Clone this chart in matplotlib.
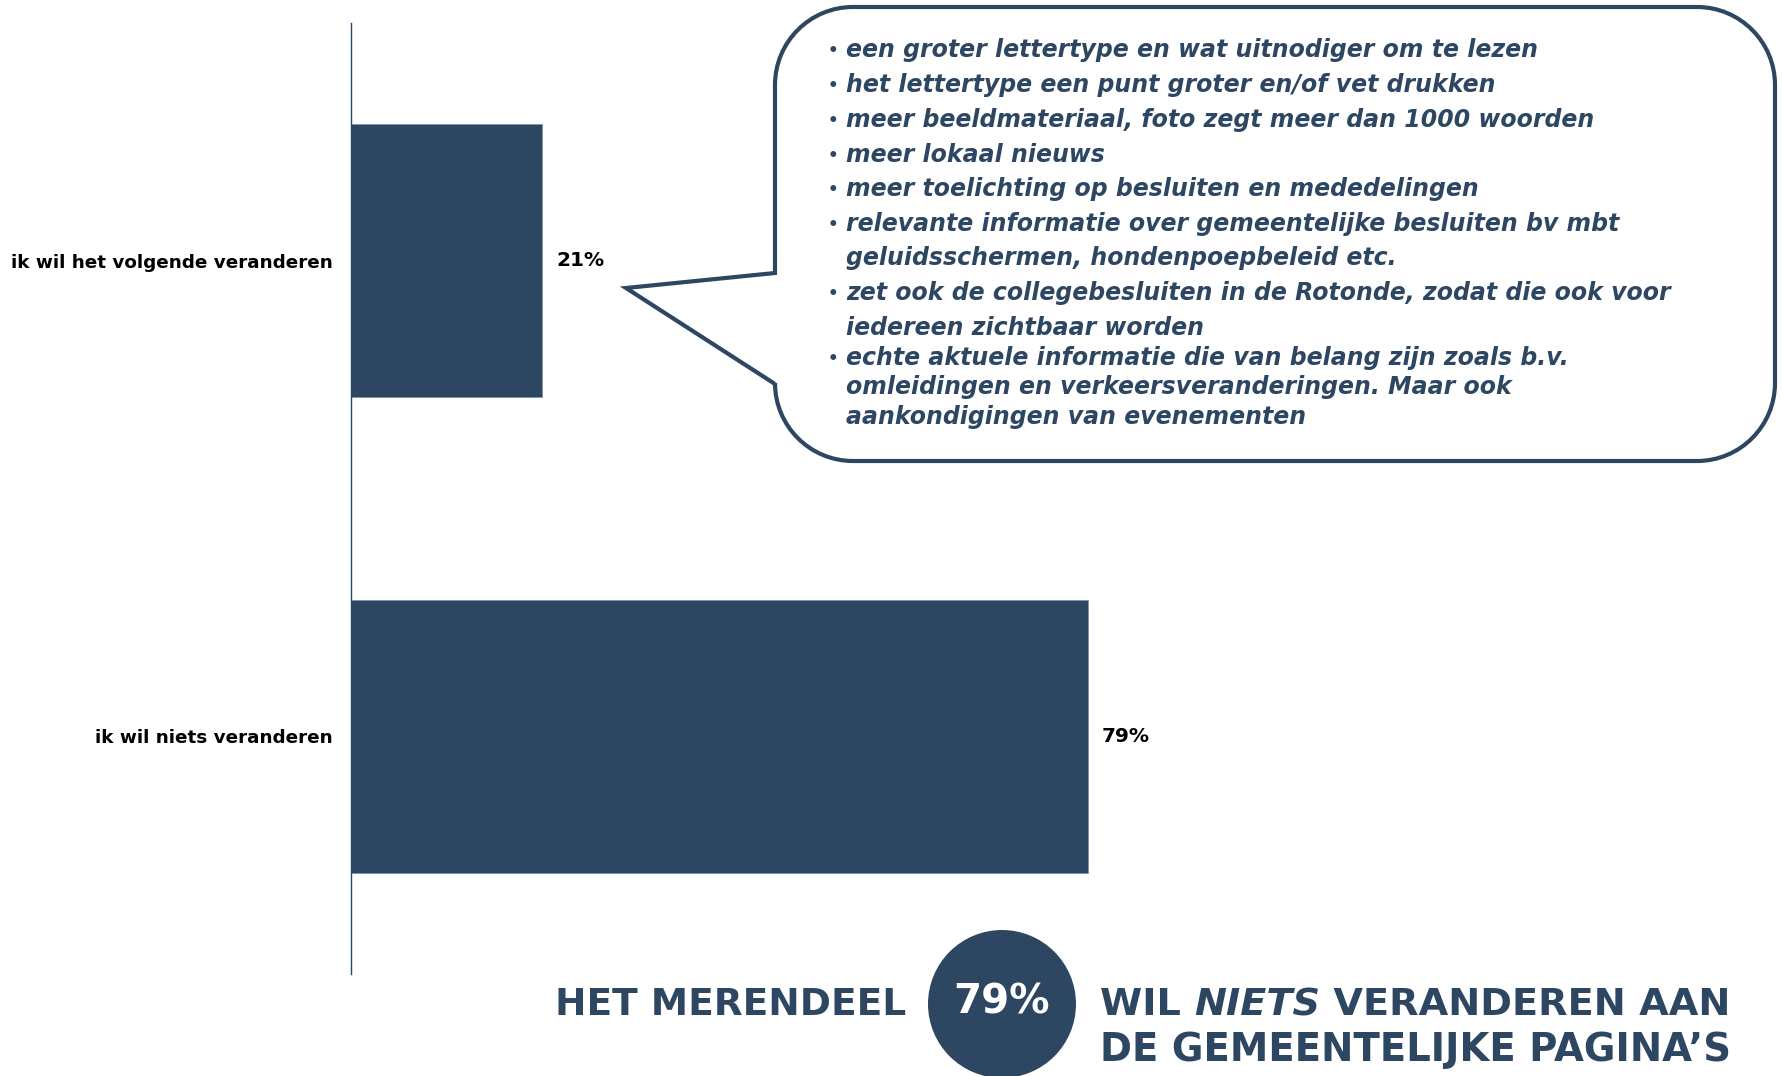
import matplotlib

matplotlib.use("Agg")
import matplotlib.pyplot as plt
from matplotlib.path import Path
from matplotlib.patches import PathPatch, Circle
import numpy as np

# data
categories = ["ik wil het volgende veranderen", "ik wil niets veranderen"]
shares = [20.6, 79.4]
value_labels = ["21%", "79%"]
comments = [
    ["een groter lettertype en wat uitnodiger om te lezen"],
    ["het lettertype een punt groter en/of vet drukken"],
    ["meer beeldmateriaal, foto zegt meer dan 1000 woorden"],
    ["meer lokaal nieuws"],
    ["meer toelichting op besluiten en mededelingen"],
    ["relevante informatie over gemeentelijke besluiten bv mbt",
     "geluidsschermen, hondenpoepbeleid etc."],
    ["zet ook de collegebesluiten in de Rotonde, zodat die ook voor",
     "iedereen zichtbaar worden"],
    ["echte aktuele informatie die van belang zijn zoals b.v.",
     "omleidingen en verkeersveranderingen. Maar ook",
     "aankondigingen van evenementen"],
]
highlight = "79%"

NAVY = "#2d4662"
W, H = 1782, 1076

fig = plt.figure(figsize=(W / 100, H / 100), dpi=100)
fig.patch.set_facecolor("white")

# bar chart
ax = fig.add_axes([351 / W, 1 - 974 / H, (1284 - 351) / W, (974 - 23) / H])
y = np.arange(len(categories))
ax.barh(y, shares, height=0.575, color=NAVY, edgecolor="#7f93ad", linewidth=0.6)
ax.set_xlim(0, 100.5)
ax.set_ylim(1.5, -0.5)
for yi, v, lab in zip(y, shares, value_labels):
    ax.text(v + 1.5, yi, lab, va="center", ha="left", fontsize=14.5,
            fontweight="bold", color="black")
ax.set_yticks(y)
ax.set_yticklabels(categories, fontsize=13.2, fontweight="bold")
ax.tick_params(axis="y", length=0, pad=13)
ax.set_xticks([])
for s in ["top", "right", "bottom"]:
    ax.spines[s].set_visible(False)
ax.spines["left"].set_color(NAVY)
ax.spines["left"].set_linewidth(1.0)

# overlay in pixel coordinates for callout and bottom banner
ov = fig.add_axes([0, 0, 1, 1], zorder=5)
ov.set_xlim(0, W)
ov.set_ylim(H, 0)
ov.axis("off")
ov.patch.set_alpha(0)

# speech bubble
x0, x1, y0, y1, r = 775, 1775, 7, 461, 78
tip = (626, 288)
k = 0.5523
verts = [
    (x0, 273), (x0, y0 + r),
    (x0, y0 + r - k * r), (x0 + r - k * r, y0), (x0 + r, y0),
    (x1 - r, y0),
    (x1 - r + k * r, y0), (x1, y0 + r - k * r), (x1, y0 + r),
    (x1, y1 - r),
    (x1, y1 - r + k * r), (x1 - r + k * r, y1), (x1 - r, y1),
    (x0 + r, y1),
    (x0 + r - k * r, y1), (x0, y1 - r + k * r), (x0, y1 - r),
    (x0, 384), tip, (x0, 273),
]
codes = [Path.MOVETO, Path.LINETO,
         Path.CURVE4, Path.CURVE4, Path.CURVE4,
         Path.LINETO,
         Path.CURVE4, Path.CURVE4, Path.CURVE4,
         Path.LINETO,
         Path.CURVE4, Path.CURVE4, Path.CURVE4,
         Path.LINETO,
         Path.CURVE4, Path.CURVE4, Path.CURVE4,
         Path.LINETO, Path.LINETO, Path.CLOSEPOLY]
ov.add_patch(PathPatch(Path(verts, codes), facecolor="white", edgecolor=NAVY,
                       linewidth=3, joinstyle="miter"))

line_y = [[50], [85], [120], [155], [189], [224, 258], [293, 328],
          [358, 387, 417]]
for lines, ys in zip(comments, line_y):
    ov.text(833, ys[0] + 1, "•", fontsize=12, fontweight="bold", color=NAVY,
            ha="center", va="center")
    for txt, yy in zip(lines, ys):
        ov.text(846, yy, txt, fontsize=17, fontweight="bold",
                style="italic", color=NAVY, ha="left", va="center")

# bottom banner
ov.add_patch(Circle((1002, 1004), 74, facecolor=NAVY, edgecolor="none",
                    clip_on=True))
ov.text(1002, 1003, highlight, fontsize=29, fontweight="bold", color="white",
        ha="center", va="center")
ov.text(906, 1005, "HET MERENDEEL", fontsize=27, fontweight="bold",
        color=NAVY, ha="right", va="center")

renderer = fig.canvas.get_renderer()
xpos = 1100
for piece, st in [("WIL ", "normal"), ("NIETS", "italic"),
                  (" VERANDEREN AAN", "normal")]:
    t = ov.text(xpos, 1005, piece, fontsize=27.5, fontweight="bold",
                style=st, color=NAVY, ha="left", va="center")
    bb = t.get_window_extent(renderer)
    xpos += bb.width
ov.text(1100, 1050, "DE GEMEENTELIJKE PAGINA\u2019S", fontsize=27.8,
        fontweight="bold", color=NAVY, ha="left", va="center")

fig.savefig("out.png", dpi=100)
